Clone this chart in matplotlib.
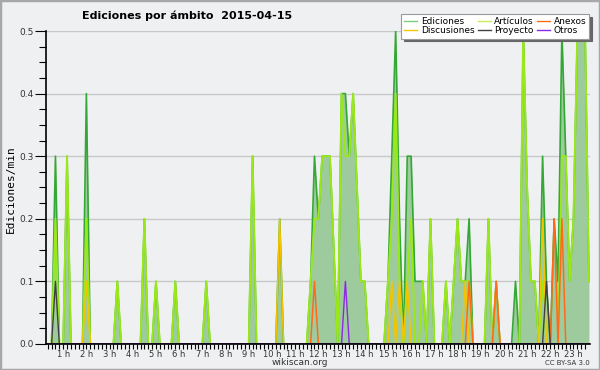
import numpy as np
import matplotlib
matplotlib.use("Agg")
import matplotlib.pyplot as plt
from matplotlib.lines import Line2D
from matplotlib.patches import Rectangle

# edits per minute, one value every 10 minutes starting at 00:20
start_min = 20
step_min = 10

ediciones = [
    0, 0, .3, 0, 0, .3, 0, 0, 0, 0, .4, 0,
    0, 0, 0, 0, 0, 0, .1, 0, 0, 0, 0, 0,
    0, .2, 0, 0, .1, 0, 0, 0, 0, .1, 0, 0,
    0, 0, 0, 0, 0, .1, 0, 0, 0, 0, 0, 0,
    0, 0, 0, 0, 0, .3, 0, 0, 0, 0, 0, 0,
    .2, 0, 0, 0, 0, 0, 0, 0, .1, .3, .2, .3,
    .3, .3, .15, 0, .4, .4, .3, .4, .25, .1, .1, 0,
    0, 0, 0, 0, .1, .3, .5, .2, 0, .3, .3, .1,
    .1, .1, 0, .2, 0, 0, 0, .1, 0, .1, .2, .1,
    .1, .2, 0, 0, 0, 0, .2, 0, .1, 0, 0, 0,
    0, .1, 0, .5, .25, .1, .1, 0, .3, .1, 0, .2,
    .1, .5, .3, .1, .2, .5, .5, .5, .1,
]

articulos = [
    0, 0, .2, 0, 0, .3, 0, 0, 0, 0, .2, 0,
    0, 0, 0, 0, 0, 0, .1, 0, 0, 0, 0, 0,
    0, .2, 0, 0, .1, 0, 0, 0, 0, .1, 0, 0,
    0, 0, 0, 0, 0, .1, 0, 0, 0, 0, 0, 0,
    0, 0, 0, 0, 0, .3, 0, 0, 0, 0, 0, 0,
    0, 0, 0, 0, 0, 0, 0, 0, .1, .2, .2, .3,
    .3, .3, .15, 0, .4, .3, .3, .4, .25, .1, .1, 0,
    0, 0, 0, 0, .1, .2, .4, .1, 0, .1, .2, 0,
    0, .1, 0, .2, 0, 0, 0, .1, 0, .1, .2, .1,
    .1, .1, 0, 0, 0, 0, .2, 0, 0, 0, 0, 0,
    0, 0, 0, .5, .25, .1, .1, 0, .1, 0, 0, 0,
    0, .3, .3, .1, .2, .5, .5, .5, .1,
]

# sparse series: time of day -> value
discusiones_t = ["02:00", "10:20", "15:10", "15:30", "15:50", "18:20", "19:40", "21:40"]
discusiones_v = [.1, .2, .1, .1, .1, .1, .1, .2]
anexos_t = ["11:50", "18:30", "19:40", "22:10", "22:30"]
anexos_v = [.1, .1, .1, .2, .2]
proyecto_t = ["00:40", "21:50"]
proyecto_v = [.1, .1]
otros_t = ["13:10"]
otros_v = [.1]

hour_labels = [f"{h} h" for h in range(1, 24)]
ytick_labels = ["0.0", "0.1", "0.2", "0.3", "0.4", "0.5"]

n = len(ediciones)
t = (start_min + step_min * np.arange(n)) / 60.0


def to_grid(times, vals):
    out = np.zeros(n)
    for s, v in zip(times, vals):
        hh, mm = s.split(":")
        i = (int(hh) * 60 + int(mm) - start_min) // step_min
        out[i] = v
    return out


discusiones = to_grid(discusiones_t, discusiones_v)
anexos = to_grid(anexos_t, anexos_v)
proyecto = to_grid(proyecto_t, proyecto_v)
otros = to_grid(otros_t, otros_v)

bg = "#eff0f2"
c_ed = "#34a834"
c_art = "#9be81a"
c_disc = "#f5c400"
c_anx = "#ff6a1a"
c_proy = "#404040"
c_otros = "#8a2be2"

fig = plt.figure(figsize=(6, 3.7), dpi=100, facecolor=bg)
fig.patches.append(Rectangle((0, 0), 1, 1, transform=fig.transFigure,
                             fill=False, edgecolor="#a8a8a8", lw=2.5))
ax = fig.add_axes([0.0767, 0.0703, 0.9058, 0.8459])
ax.set_facecolor(bg)

ax.fill_between(t, ediciones, color="#9dcb9d", lw=0, zorder=2)
ax.plot(t, ediciones, color=c_ed, lw=1.2, zorder=3)
ax.plot(t, articulos, color=c_art, lw=1.4, zorder=3)
ax.plot(t, discusiones, color=c_disc, lw=1.1, zorder=3)
ax.plot(t, anexos, color=c_anx, lw=1.1, zorder=3)
ax.plot(t, proyecto, color=c_proy, lw=1.0, zorder=3)
ax.plot(t, otros, color=c_otros, lw=1.0, zorder=3)

ax.set_xlim(0.26, 23.69)
ax.set_ylim(0, 0.5)

ax.set_xticks(range(1, 24))
ax.set_xticklabels(hour_labels)
ax.set_xticks(np.arange(2, 142) / 6.0, minor=True)
ax.set_yticks(np.arange(6) / 10.0)
ax.set_yticklabels(ytick_labels)
ax.set_yticks(np.arange(21) * 0.025, minor=True)

ax.tick_params(axis="x", which="both", direction="out", length=3.5, width=0.8,
               labelsize=6, pad=0.5, labelcolor="#333333")
ax.tick_params(axis="y", which="major", direction="out", length=8, width=0.8,
               labelsize=6.5, pad=1, labelcolor="#333333")
ax.tick_params(axis="y", which="minor", direction="out", length=5, width=0.8)

ax.yaxis.grid(True, color="#c8c8c8", lw=1)
ax.set_axisbelow(True)
for s in ["top", "right"]:
    ax.spines[s].set_visible(False)
for s in ["left", "bottom"]:
    ax.spines[s].set_linewidth(1.2)
    ax.spines[s].set_zorder(10)

fig.text(0.3125, 0.957, "Ediciones por ámbito  2015-04-15", ha="center", va="center",
         fontsize=8, weight="bold")
fig.text(0.018, 0.49, "Ediciones/min", rotation=90, ha="center", va="center",
         family="DejaVu Sans Mono", fontsize=8)
fig.text(0.5, 0.019, "wikiscan.org", ha="center", va="center", fontsize=6.5, color="#333333")
fig.text(0.983, 0.019, "CC BY-SA 3.0", ha="right", va="center", fontsize=5, color="#333333")

handles = [
    Line2D([], [], color="#7fcc7f", lw=1, label="Ediciones"),
    Line2D([], [], color=c_disc, lw=1, label="Discusiones"),
    Line2D([], [], color="#c8ee55", lw=1, label="Artículos"),
    Line2D([], [], color=c_proy, lw=1, label="Proyecto"),
    Line2D([], [], color=c_anx, lw=1, label="Anexos"),
    Line2D([], [], color=c_otros, lw=1, label="Otros"),
]
leg = fig.legend(handles=handles, loc="upper right", bbox_to_anchor=(0.99, 0.975),
                 ncol=3, fontsize=6.5, frameon=True, fancybox=False, framealpha=1,
                 facecolor="white", edgecolor="#999999",
                 shadow={"color": "#666666", "alpha": 1},
                 handlelength=1.4, columnspacing=0.4, labelspacing=0.05,
                 borderpad=0.35, handletextpad=0.4)
leg.get_frame().set_linewidth(0.8)

fig.savefig("out.png", dpi=100, facecolor=bg)
